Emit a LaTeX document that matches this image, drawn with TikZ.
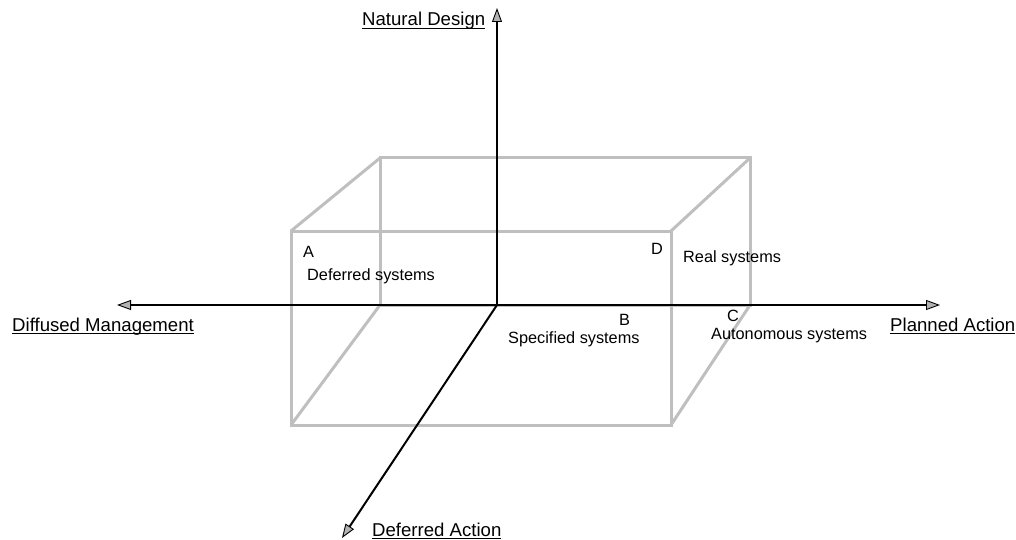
\documentclass[tikz,border=0pt]{standalone}
\usepackage{fontspec}
\setmainfont{Liberation Sans}
\usetikzlibrary{arrows.meta}
\newcommand{\ulabel}[1]{\setbox0\hbox{#1}\rlap{\rule[-3.2pt]{\wd0}{1.4pt}}\box0}
\tikzset{
  boxline/.style={draw=black!25, line width=3pt},
  axis/.style={line width=2pt, -{Triangle[length=14pt,width=10pt,fill=black!30,line width=0.9pt]}},
  axlabel/.style={anchor=base west, inner sep=0pt, font=\fontsize{18.6}{21}\selectfont},
  lbl/.style={anchor=base west, inner sep=0pt, font=\fontsize{16.3}{19}\selectfont}
}
\begin{document}
\begin{tikzpicture}[x=1pt, y=-1pt]
                    \useasboundingbox (0,0) rectangle (1016,540);
                    % box corners
                    \coordinate (fa) at (291,231); \coordinate (fb) at (671,231);
                    \coordinate (fc) at (671,425); \coordinate (fd) at (291,425);
                    \coordinate (ba) at (380,158); \coordinate (bb) at (750,158);
                    \coordinate (bc) at (750,305); \coordinate (bd) at (380,305);
                    \draw[boxline] (fa) -- (fb) -- (fc) -- (fd) -- cycle;
                    \draw[boxline] (bd) -- (ba) -- (bb) -- (bc) -- (bd);
                    \draw[boxline] (fa) -- (ba);
                    \draw[boxline] (fb) -- (bb);
                    \draw[boxline] (fc) -- (bc);
                    \draw[boxline] (fd) -- (bd);
                    % axes
                    \coordinate (o) at (497,305);
                    \coordinate (left) at (117,305); \coordinate (right) at (940,305);
                    \coordinate (up) at (497,8); \coordinate (down) at (342,538);
                    \draw[axis] (o) -- (left);
                    \draw[axis] (o) -- (right);
                    \draw[axis] (o) -- (up);
                    \draw[axis] (o) -- (down);
                    % axis labels
                    \node[axlabel] (natural) at (362,26) {\ulabel{Natural Design}};
                    \node[axlabel] (diffused) at (12,331) {\ulabel{Diffused Management}};
                    \node[axlabel] (planned) at (890,331) {\ulabel{Planned Action}};
                    \node[axlabel] (deferred) at (372,536) {\ulabel{Deferred Action}};
                    % systems
                    \node[lbl] (lblA) at (303,257) {A};
                    \node[lbl] (defsys) at (307,280) {Deferred systems};
                    \node[lbl] (lblD) at (651,254) {D};
                    \node[lbl] (realsys) at (683,262) {Real systems};
                    \node[lbl] (lblB) at (619,325) {B};
                    \node[lbl] (specsys) at (508,343) {Specified systems};
                    \node[lbl] (lblC) at (727,321) {C};
                    \node[lbl] (autosys) at (711,339) {Autonomous systems};
                \end{tikzpicture}
\end{document}
